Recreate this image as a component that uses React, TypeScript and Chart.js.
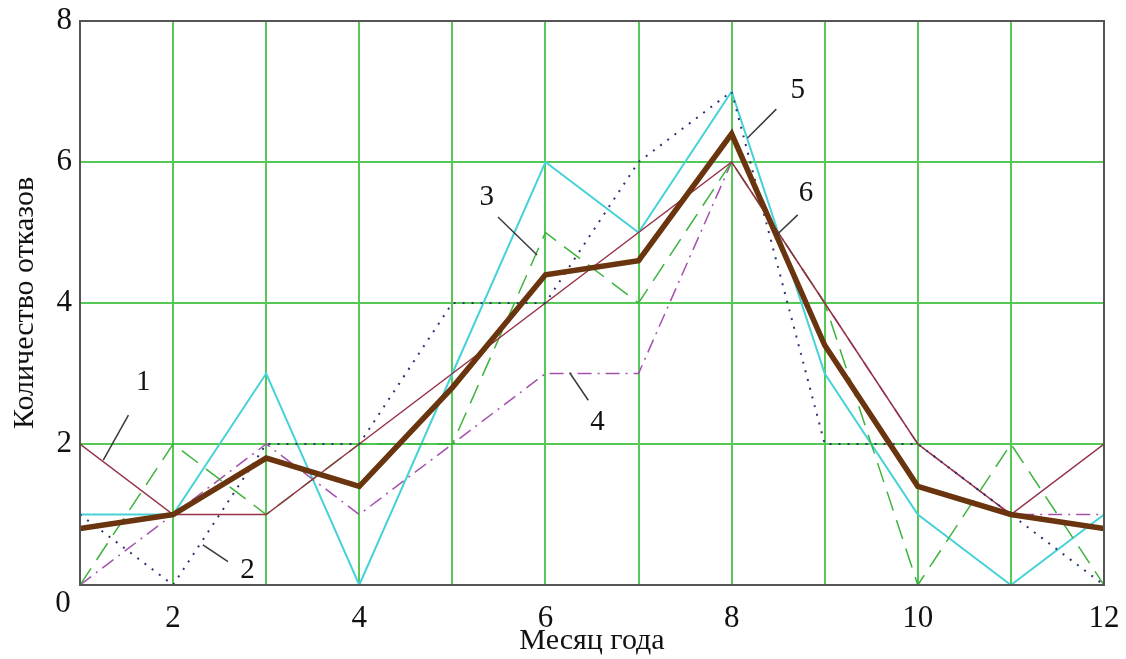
import React, { useEffect, useRef } from "react";
import { Chart, registerables } from "chart.js";

Chart.register(...registerables);

const months = [1, 2, 3, 4, 5, 6, 7, 8, 9, 10, 11, 12];
const series1 = [2, 1, 1, 2, 3, 4, 5, 6, 4, 2, 1, 2];
const series2 = [1, 0, 2, 2, 4, 4, 6, 7, 2, 2, 1, 0];
const series3 = [0, 2, 1, 2, 2, 5, 4, 6, 4, 0, 2, 0];
const series4 = [0, 1, 2, 1, 2, 3, 3, 6, 4, 2, 1, 1];
const series5 = [0.8, 1, 1.8, 1.4, 2.8, 4.4, 4.6, 6.4, 3.4, 1.4, 1, 0.8];
const series6 = [1, 1, 3, 0, 3, 6, 5, 7, 3, 1, 0, 1];

const xTickLabels = ["2", "4", "6", "8", "10", "12"];
const yTickLabels = ["0", "2", "4", "6", "8"];

// curve labels with leader lines, in data coordinates
const curveLabels = [
  { text: "1", tx: 1.68, ty: 2.88, x1: 1.52, y1: 2.41, x2: 1.25, y2: 1.77 },
  { text: "2", tx: 2.8, ty: 0.21, x1: 2.59, y1: 0.33, x2: 2.32, y2: 0.57 },
  { text: "3", tx: 5.37, ty: 5.5, x1: 5.49, y1: 5.22, x2: 5.91, y2: 4.68 },
  { text: "4", tx: 6.56, ty: 2.3, x1: 6.46, y1: 2.62, x2: 6.26, y2: 3.01 },
  { text: "5", tx: 8.71, ty: 7.02, x1: 8.48, y1: 6.75, x2: 8.17, y2: 6.34 },
  { text: "6", tx: 8.8, ty: 5.56, x1: 8.71, y1: 5.25, x2: 8.48, y2: 4.96 },
];

const SERIF = "'Liberation Serif', 'Times New Roman', serif";

const toPoints = (vals: number[]) => months.map((m, i) => ({ x: m, y: vals[i] }));

export default function App() {
  const ref = useRef<HTMLCanvasElement | null>(null);

  useEffect(() => {
    document.body.style.margin = "0";
    const canvas = ref.current;
    if (!canvas) return;

    const overlay = {
      id: "overlay",
      afterDatasetsDraw(chart: any) {
        const { ctx, chartArea, scales } = chart;
        const xs = scales.x;
        const ys = scales.y;
        ctx.save();
        // frame
        ctx.strokeStyle = "#555555";
        ctx.lineWidth = 2;
        ctx.strokeRect(
          chartArea.left,
          chartArea.top,
          chartArea.right - chartArea.left,
          chartArea.bottom - chartArea.top
        );
        // curve labels
        ctx.strokeStyle = "#3a3a3a";
        ctx.lineWidth = 1.5;
        ctx.fillStyle = "#111111";
        ctx.font = `29px ${SERIF}`;
        ctx.textAlign = "center";
        ctx.textBaseline = "middle";
        for (const l of curveLabels) {
          ctx.beginPath();
          ctx.moveTo(xs.getPixelForValue(l.x1), ys.getPixelForValue(l.y1));
          ctx.lineTo(xs.getPixelForValue(l.x2), ys.getPixelForValue(l.y2));
          ctx.stroke();
          ctx.fillText(l.text, xs.getPixelForValue(l.tx), ys.getPixelForValue(l.ty));
        }
        // y-axis zero label (offset below the axis)
        ctx.font = `31px ${SERIF}`;
        ctx.textAlign = "center";
        ctx.fillText(yTickLabels[0], chartArea.left - 17, chartArea.bottom + 19);
        ctx.restore();
      },
    };

    const chart = new Chart(canvas, {
      type: "line",
      data: {
        datasets: [
          {
            label: "5",
            data: toPoints(series5),
            borderColor: "rgb(105,52,14)",
            borderWidth: 5.5,
            pointRadius: 0,
            order: 0,
          },
          {
            label: "1",
            data: toPoints(series1),
            borderColor: "rgb(150,50,70)",
            borderWidth: 1.5,
            pointRadius: 0,
            order: 3,
          },
          {
            label: "2",
            data: toPoints(series2),
            borderColor: "rgb(50,50,110)",
            borderWidth: 2,
            borderDash: [2, 7],
            pointRadius: 0,
            order: 2,
          },
          {
            label: "3",
            data: toPoints(series3),
            borderColor: "rgb(60,180,60)",
            borderWidth: 1.5,
            borderDash: [20, 10],
            pointRadius: 0,
            order: 4,
          },
          {
            label: "4",
            data: toPoints(series4),
            borderColor: "rgb(165,80,175)",
            borderWidth: 1.5,
            borderDash: [14, 6, 2, 6],
            pointRadius: 0,
            order: 5,
          },
          {
            label: "6",
            data: toPoints(series6),
            borderColor: "rgb(70,210,215)",
            borderWidth: 2,
            pointRadius: 0,
            order: 6,
          },
        ],
      },
      options: {
        responsive: false,
        animation: false,
        events: [],
        layout: { padding: { left: 0, right: 22, top: 21, bottom: 0 } },
        plugins: {
          legend: { display: false },
          tooltip: { enabled: false },
        },
        scales: {
          x: {
            type: "linear",
            min: 1,
            max: 12,
            afterFit: (s: any) => {
              s.height = 74;
              s.paddingLeft = 0;
              s.paddingRight = 0;
            },
            ticks: {
              stepSize: 1,
              autoSkip: false,
              maxRotation: 0,
              padding: 15,
              color: "#111111",
              font: { family: SERIF, size: 31 },
              callback: (v: any) => {
                const s = String(v);
                return xTickLabels.includes(s) ? s : "";
              },
            },
            grid: { color: "rgb(85,200,85)", lineWidth: 2, drawTicks: false },
            border: { display: false },
            title: {
              display: true,
              text: "Месяц года",
              color: "#111111",
              font: { family: SERIF, size: 30, lineHeight: 1.2 },
              padding: { top: 0, bottom: 0 },
            },
          },
          y: {
            type: "linear",
            min: 0,
            max: 8,
            afterFit: (s: any) => {
              s.width = 80;
              s.paddingTop = 0;
              s.paddingBottom = 0;
            },
            ticks: {
              stepSize: 2,
              padding: 8,
              color: "#111111",
              font: { family: SERIF, size: 31 },
              callback: (v: any) => {
                const s = String(v);
                return s === yTickLabels[0] ? "" : yTickLabels.includes(s) ? s : "";
              },
            },
            grid: { color: "rgb(85,200,85)", lineWidth: 2, drawTicks: false },
            border: { display: false },
            title: {
              display: true,
              text: "Количество отказов",
              color: "#111111",
              font: { family: SERIF, size: 30, lineHeight: 1.2 },
              padding: { top: 7, bottom: 0 },
            },
          },
        },
      },
      plugins: [overlay],
    });

    return () => chart.destroy();
  }, []);

  return <canvas ref={ref} width={1126} height={659} style={{ display: "block" }} />;
}
